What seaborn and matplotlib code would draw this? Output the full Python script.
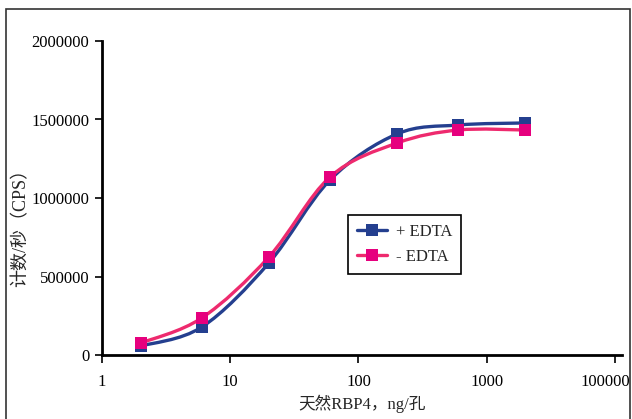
import matplotlib

matplotlib.use("Agg")
import matplotlib.pyplot as plt
import matplotlib.transforms as mtransforms
import numpy as np
import pandas as pd
import seaborn as sns
from matplotlib.lines import Line2D
from matplotlib.patches import PathPatch, Rectangle
from matplotlib.path import Path

# data
conc = [2, 6, 20, 60, 200, 600, 2000]
cps_plus = [57000, 178000, 586000, 1115000, 1408000, 1465000, 1478000]
cps_minus = [76000, 236000, 624000, 1134000, 1350000, 1433000, 1433000]
series_names = ["+ EDTA", "- EDTA"]
x_ticks = [1, 10, 100, 1000, 10000]
x_tick_labels = ["1", "10", "100", "1000", "100000"]
y_ticks = [0, 500000, 1000000, 1500000, 2000000]

BLUE = "#243F8F"
PINK_LINE = "#EE2A6E"
PINK_MARK = "#E6007E"

sns.set_style("ticks")
plt.rcParams["font.family"] = ["Liberation Serif", "Noto Sans CJK SC"]


def smooth_path(xs, ys):
    """Excel-like smoothed line: cubic Bezier segments in (log x, y) space."""
    lx = np.log10(np.asarray(xs, dtype=float))
    y = np.asarray(ys, dtype=float)
    pts = np.column_stack([lx, y])
    n = len(pts)
    verts = [pts[0]]
    codes = [Path.MOVETO]
    for i in range(n - 1):
        p0 = pts[i - 1] if i > 0 else pts[i]
        p1 = pts[i]
        p2 = pts[i + 1]
        p3 = pts[i + 2] if i + 2 < n else pts[i + 1]
        c1 = p1 + (p2 - p0) / 6.0
        c2 = p2 - (p3 - p1) / 6.0
        verts += [c1, c2, p2]
        codes += [Path.CURVE4] * 3
    verts = np.array(verts)
    verts[:, 0] = 10 ** verts[:, 0]
    return Path(verts, codes)


df = pd.DataFrame(
    {
        "conc": conc * 2,
        "cps": cps_plus + cps_minus,
        "series": [series_names[0]] * len(conc) + [series_names[1]] * len(conc),
    }
)

fig = plt.figure(figsize=(6.32, 4.19), dpi=100)
ax = fig.add_axes([102 / 632, 1 - 355 / 419, 520 / 632, 314 / 419])

for ys, col in [(cps_plus, BLUE), (cps_minus, PINK_LINE)]:
    ax.add_patch(
        PathPatch(smooth_path(conc, ys), facecolor="none", edgecolor=col,
                  lw=2.4, zorder=2)
    )

sns.scatterplot(
    data=df, x="conc", y="cps", hue="series",
    palette={series_names[0]: BLUE, series_names[1]: PINK_MARK},
    marker="s", s=75, linewidth=0, legend=False, zorder=3, ax=ax,
)

ax.set_xscale("log")
ax.set_xlim(1, 10 ** 4.055)
ax.set_ylim(0, 2000000)
ax.xaxis.set_major_locator(matplotlib.ticker.FixedLocator(x_ticks))
ax.xaxis.set_minor_locator(matplotlib.ticker.NullLocator())
ax.set_xticks(x_ticks)
ax.set_xticklabels(x_tick_labels)
ax.set_yticks(y_ticks)
ax.set_yticklabels([str(v) for v in y_ticks])
ax.tick_params(axis="both", labelsize=12, colors="black", width=1.2)
ax.tick_params(axis="x", length=6, pad=8)
ax.tick_params(axis="y", length=5, pad=4)

# last x label sits flush against the right frame in the reference
last = ax.get_xticklabels()[-1]
last.set_horizontalalignment("right")
last.set_transform(last.get_transform() + mtransforms.ScaledTranslation(
    15 / 100, 0, fig.dpi_scale_trans))

sns.despine(ax=ax, top=True, right=True)
for side in ["left", "bottom"]:
    ax.spines[side].set_linewidth(2)
    ax.spines[side].set_color("black")

ax.set_xlabel("天然RBP4，ng/孔", fontsize=12, labelpad=3)
ax.set_ylabel("计数/秒（CPS）", fontsize=13)
ax.yaxis.set_label_coords(-(102 - 29) / 520, 0.42)

handles = [
    Line2D([], [], color=BLUE, lw=2.4, marker="s", markersize=8, markeredgewidth=0),
    Line2D([], [], color=PINK_LINE, lw=2.4, marker="s", markersize=8,
           markerfacecolor=PINK_MARK, markeredgewidth=0),
]
leg = ax.legend(
    handles, series_names, loc="upper left",
    bbox_to_anchor=((348 - 102) / 520, (355 - 215) / 314),
    fontsize=12, frameon=True, fancybox=False, framealpha=1,
    edgecolor="black", handlelength=1.8, handletextpad=0.5,
    borderpad=0.55, labelspacing=0.5, borderaxespad=0,
)
leg.get_frame().set_linewidth(1.2)

fig.patches.append(
    Rectangle((6 / 632, -0.02), 624 / 632, 1.02 - 9 / 419, transform=fig.transFigure,
              fill=False, edgecolor="#333333", lw=1.2)
)

fig.savefig("out.png", dpi=100)
